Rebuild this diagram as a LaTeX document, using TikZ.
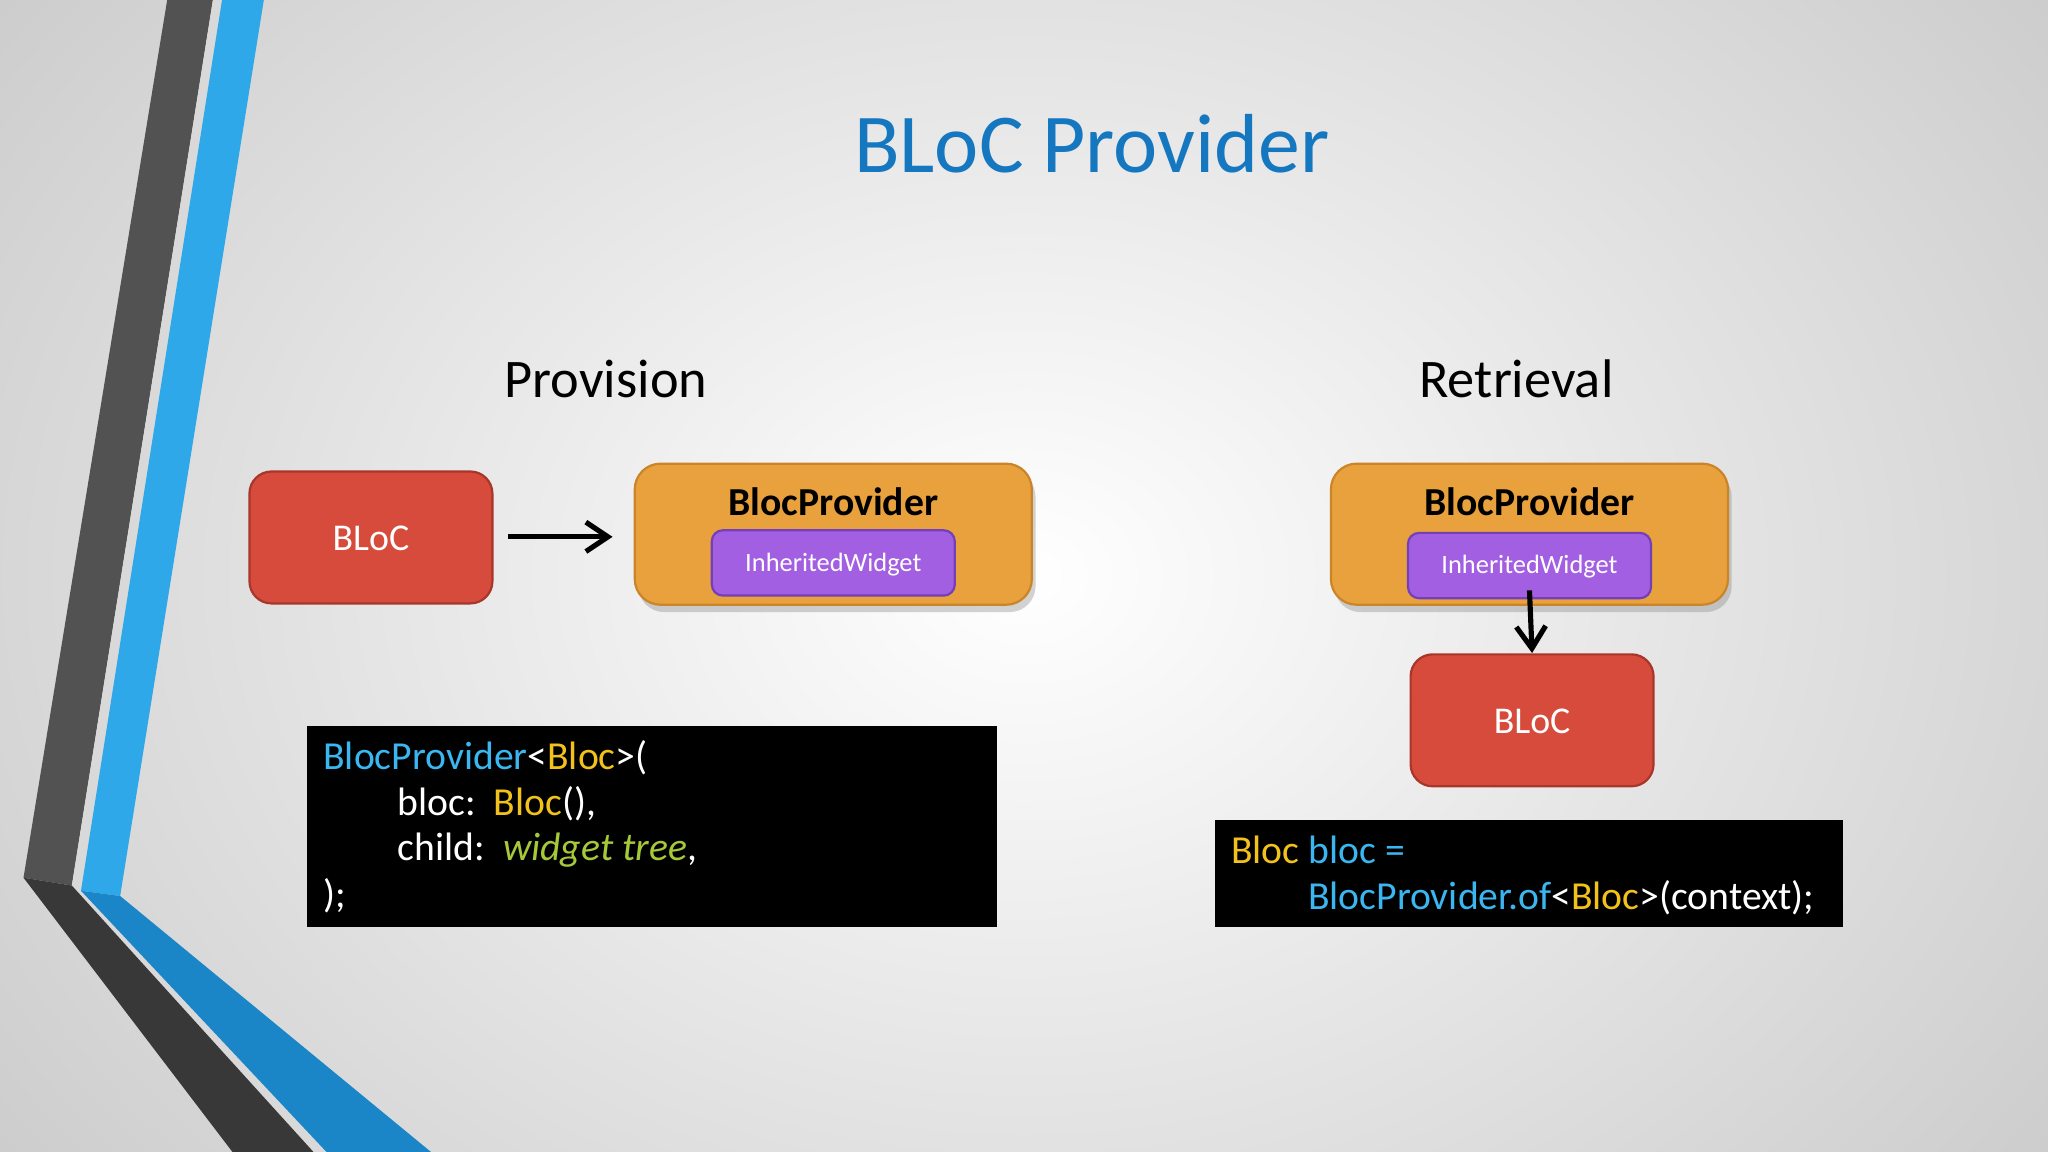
\documentclass[tikz,border=0pt]{standalone}
\usepackage{fontspec}
\setmainfont{Carlito}
\usetikzlibrary{shadows,arrows.meta}
\definecolor{bred}{HTML}{D64B3B}
\definecolor{bredd}{HTML}{A8362A}
\definecolor{orng}{HTML}{E8A13C}
\definecolor{orngd}{HTML}{C98528}
\definecolor{purp}{HTML}{A35FE2}
\definecolor{purpd}{HTML}{7440B8}
\definecolor{ttl}{HTML}{1577BF}
\definecolor{ccy}{HTML}{3AB6F0}
\definecolor{cye}{HTML}{F2C21B}
\definecolor{cgr}{HTML}{A6C93A}
\definecolor{sblue}{HTML}{2EA8E8}
\definecolor{sblued}{HTML}{1A86C8}
\begin{document}
\begin{tikzpicture}[x=0.0125cm,y=-0.0125cm,
 bloc/.style={draw=bredd,fill=bred,rounded corners=6pt,line width=0.6pt},
 prov/.style={draw=orngd,fill=orng,rounded corners=7pt,line width=0.6pt,drop shadow={opacity=0.35,shadow xshift=1pt,shadow yshift=-2pt}},
 inh/.style={draw=purpd,fill=purp,rounded corners=3pt,line width=0.6pt},
 blt/.style={text=white,font=\fontsize{10.3}{12}\selectfont},
 iwt/.style={text=white,font=\fontsize{7.2}{9}\selectfont},
 ptitle/.style={font=\bfseries\fontsize{10.8}{13}\selectfont,text=black},
 code/.style={anchor=base west,text=white,font=\fontsize{10.8}{13}\selectfont,inner sep=0},
 arr/.style={-{Straight Barb[length=6pt,width=8pt]},line width=1.4pt}]
\useasboundingbox (0,0) rectangle (1568,882);
\shade[inner color=white,outer color=black!22] (-300,-400) rectangle (1868,1282);
\path[clip] (0,0) rectangle (1568,882);
% stripes
\fill[black!68] (128,0) -- (163,0) -- (55,678) -- (18,672) -- cycle;
\fill[white!85!black] (163,0) -- (170,0) -- (62,682) -- (250,882) -- (240,882) -- (55,678) -- cycle;
\fill[black!78] (18,672) -- (55,678) -- (240,882) -- (178,882) -- cycle;
\fill[sblue] (170,0) -- (202,0) -- (92,686) -- (62,682) -- cycle;
\fill[sblued] (62,682) -- (92,686) -- (330,882) -- (250,882) -- cycle;
% titles
\node[text=ttl,font=\fontsize{22.8}{27}\selectfont] (title) at (836,110) {BLoC Provider};
\node[font=\fontsize{14.8}{18}\selectfont] (prov) at (464,290) {Provision};
\node[font=\fontsize{14.8}{18}\selectfont] (retr) at (1161,290) {Retrieval};
% left
\path[bloc] (191,361) rectangle (377,462);
\node[blt] (bl1) at (284,412) {BLoC};
\path[prov] (486,355) rectangle (790,463);
\node[ptitle] (bp1) at (638,384) {BlocProvider};
\path[inh] (545,406) rectangle (731,456);
\node[iwt] (iw1) at (638,432) {InheritedWidget};
\coordinate (a1s) at (389,411);
\coordinate (a1e) at (469,411);
\draw[arr] (a1s) -- (a1e);
% right
\path[prov] (1019,355) rectangle (1323,463);
\node[ptitle] (bp2) at (1171,384) {BlocProvider};
\path[inh] (1078,408) rectangle (1264,458);
\node[iwt] (iw2) at (1171,434) {InheritedWidget};
\path[bloc] (1080,501) rectangle (1266,602);
\node[blt] (bl2) at (1173,552) {BLoC};
\coordinate (a2s) at (1171,452);
\coordinate (a2e) at (1173,500);
\draw[arr] (a2s) -- (a2e);
% code boxes
\fill[black] (235,556) rectangle (763,710);
\node[code] (c1) at (247,589) {\textcolor{ccy}{BlocProvider}<\textcolor{cye}{Bloc}>(};
\node[code] (c2) at (304,624) {bloc:~~\textcolor{cye}{Bloc}(),};
\node[code] (c3) at (304,659) {child:~~\textcolor{cgr}{\itshape widget tree},};
\node[code] (c4) at (247,695) {);};
\fill[black] (930,628) rectangle (1411,710);
\node[code] (d1) at (942,661) {\textcolor{cye}{Bloc} \textcolor{ccy}{bloc =}};
\node[code] (d2) at (1001,696) {\textcolor{ccy}{BlocProvider.of}<\textcolor{cye}{Bloc}>(context);};
\end{tikzpicture}
\end{document}
